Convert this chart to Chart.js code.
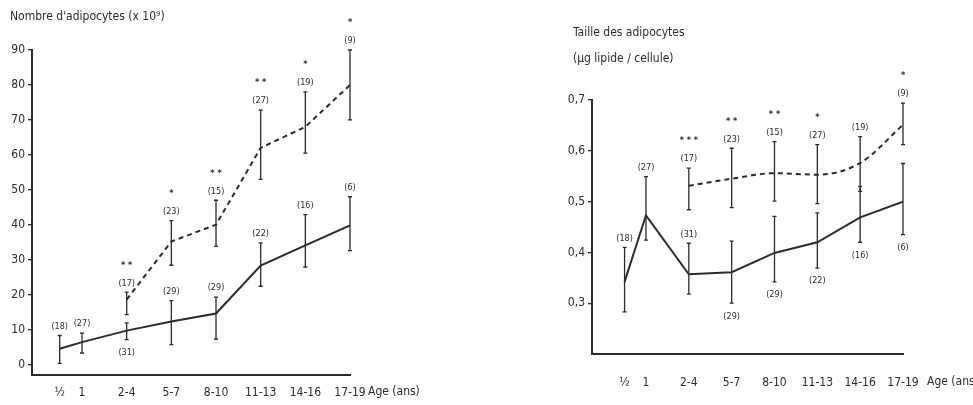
<!DOCTYPE html>
<html>
<head>
<meta charset="utf-8">
<script src="https://cdn.jsdelivr.net/npm/chart.js@4.4.1/dist/chart.umd.min.js"></script>
<style>
  html, body { margin: 0; padding: 0; background: #fff; }
  body { width: 973px; height: 405px; position: relative; overflow: hidden; }
  canvas { position: absolute; top: 0; }
  #left { left: 0; }
  #right { left: 490px; }
</style>
</head>
<body>
<canvas id="left" width="490" height="405"></canvas>
<canvas id="right" width="483" height="405"></canvas>
<script>
// age classes (x positions: 1/2 year sits half a step before 1)
const ages = ['½', '1', '2-4', '5-7', '8-10', '11-13', '14-16', '17-19'];
const agePos = [0.5, 1, 2, 3, 4, 5, 6, 7];

// left panel: number of adipocytes (x 10^9)
const nbTicks = [0, 10, 20, 30, 40, 50, 60, 70, 80, 90];
const nbSolid = [4.5, 6.4, 9.7, 12.3, 14.6, 28.3, 34.1, 39.8];
const nbSolidLo = [0.3, 3.3, 7.1, 5.7, 7.3, 22.4, 27.9, 32.6];
const nbSolidHi = [8.3, 9, 11.9, 18.3, 19.3, 34.8, 42.9, 48];
const nbSolidN = [18, 27, 31, 29, 29, 22, 16, 6];
const nbDashed = [null, null, 18.6, 35.2, 40, 62, 68, 80];
const nbDashedLo = [null, null, 14.3, 28.4, 33.8, 53, 60.5, 70];
const nbDashedHi = [null, null, 20.7, 41.2, 47, 72.8, 78, 90];
const nbDashedN = [null, null, 17, 23, 15, 27, 19, 9];
const nbStars = ['', '', '**', '*', '**', '**', '*', '*'];

// right panel: adipocyte size (µg lipid / cell)
const szTicks = [0.3, 0.4, 0.5, 0.6, 0.7];
const szSolid = [0.342, 0.473, 0.357, 0.361, 0.399, 0.42, 0.469, 0.5];
const szSolidLo = [0.283, 0.424, 0.318, 0.3, 0.342, 0.369, 0.42, 0.435];
const szSolidHi = [0.41, 0.549, 0.418, 0.422, 0.471, 0.478, 0.53, 0.575];
const szSolidN = [18, 27, 31, 29, 29, 22, 16, 6];
const szDashed = [null, null, 0.531, 0.545, 0.556, 0.553, 0.576, 0.651];
const szDashedLo = [null, null, 0.484, 0.488, 0.501, 0.496, 0.52, 0.612];
const szDashedHi = [null, null, 0.566, 0.605, 0.618, 0.612, 0.628, 0.694];
const szDashedN = [null, null, 17, 23, 15, 27, 19, 9];
const szStars = ['', '', '***', '**', '**', '*', '', '*'];

// where the (n) labels go for the solid curves
const nbSolidSide = ['up', 'up', 'down', 'up', 'up', 'up', 'up', 'up'];
const szSolidSide = ['up', 'up', 'up', 'down', 'down', 'down', 'down', 'down'];

const FONT = "'Liberation Sans Narrow', 'DejaVu Sans Condensed', sans-serif";
const INK = '#2b2b2b';

function pts(vals) {
  const out = [];
  vals.forEach((v, i) => { if (v !== null) out.push({ x: agePos[i], y: v, i: i }); });
  return out;
}

// error bars, sample sizes, stars, titles
const annot = {
  id: 'annot',
  afterDatasetsDraw(chart, args, opts) {
    const { ctx, scales: { x, y } } = chart;
    ctx.save();
    ctx.strokeStyle = INK;
    ctx.fillStyle = INK;
    ctx.lineWidth = 1.3;
    chart.data.datasets.forEach(ds => {
      ds.data.forEach(p => {
        const i = p.i;
        const px = x.getPixelForValue(p.x);
        const top = y.getPixelForValue(ds.hi[i]);
        const bot = y.getPixelForValue(ds.lo[i]);
        ctx.beginPath();
        ctx.moveTo(px, top); ctx.lineTo(px, bot);
        ctx.moveTo(px - 2, top); ctx.lineTo(px + 2, top);
        ctx.moveTo(px - 2, bot); ctx.lineTo(px + 2, bot);
        ctx.stroke();
        ctx.font = '9px ' + FONT;
        ctx.textAlign = 'center';
        ctx.textBaseline = 'middle';
        const side = ds.side ? ds.side[i] : 'up';
        const ly = side === 'up' ? top - 9 : bot + 13;
        ctx.fillText('(' + ds.n[i] + ')', px, ly);
        if (ds.stars && ds.stars[i]) {
          ctx.font = 'bold 9px ' + FONT;
          ctx.fillText(ds.stars[i].split('').join(' '), px, ly - 18);
        }
      });
    });
    ctx.font = '12px ' + FONT;
    ctx.textAlign = 'left';
    ctx.textBaseline = 'middle';
    opts.titles.forEach(t => ctx.fillText(t[0], t[1], t[2]));
    ctx.fillText('Age (ans)', x.right + opts.ageGap, opts.tickY);
    ctx.restore();
  }
};

function makeChart(id, cfg) {
  return new Chart(document.getElementById(id), {
    type: 'line',
    data: {
      datasets: [
        {
          data: pts(cfg.solid), hi: cfg.solidHi, lo: cfg.solidLo, n: cfg.solidN, side: cfg.solidSide,
          borderColor: INK, borderWidth: 2, pointRadius: 0, tension: 0
        },
        {
          data: pts(cfg.dashed), hi: cfg.dashedHi, lo: cfg.dashedLo, n: cfg.dashedN, stars: cfg.stars,
          borderColor: INK, borderWidth: 2, borderDash: [5, 4], pointRadius: 0,
          cubicInterpolationMode: cfg.smooth ? 'monotone' : 'default', tension: cfg.smooth ? 0.4 : 0
        }
      ]
    },
    options: {
      responsive: false,
      animation: false,
      devicePixelRatio: 1,
      layout: { padding: cfg.padding },
      plugins: {
        legend: { display: false },
        tooltip: { enabled: false },
        annot: { titles: cfg.titles, ageGap: cfg.ageGap, tickY: cfg.tickY }
      },
      scales: {
        x: {
          type: 'linear', min: cfg.xMin, max: 7,
          afterBuildTicks: s => { s.ticks = agePos.map(v => ({ value: v })); },
          afterFit: s => { s.height = cfg.xHeight; },
          grid: { display: false },
          border: { display: true, color: INK, width: 2 },
          ticks: {
            color: INK, padding: cfg.tickPad, maxRotation: 0, autoSkip: false,
            font: { family: FONT, size: 12 },
            callback: v => ages[agePos.indexOf(v)]
          }
        },
        y: {
          min: cfg.yMin, max: cfg.yMax,
          afterBuildTicks: s => { s.ticks = cfg.yTicks.map(v => ({ value: v })); },
          afterFit: s => { s.width = cfg.yWidth; },
          grid: { drawOnChartArea: false, drawTicks: true, tickLength: 4, color: INK, lineWidth: 1.3 },
          border: { display: true, color: INK, width: 2 },
          ticks: {
            color: INK, padding: 3,
            font: { family: FONT, size: 12 },
            callback: v => cfg.fmt(v)
          }
        }
      }
    },
    plugins: [annot]
  });
}

makeChart('left', {
  solid: nbSolid, solidLo: nbSolidLo, solidHi: nbSolidHi, solidN: nbSolidN, solidSide: nbSolidSide,
  dashed: nbDashed, dashedLo: nbDashedLo, dashedHi: nbDashedHi, dashedN: nbDashedN, stars: nbStars,
  smooth: false,
  yTicks: nbTicks, yMin: -3, yMax: 90, fmt: v => String(v),
  xMin: -0.12, yWidth: 32, xHeight: 30, tickY: 392, tickPad: 3, ageGap: 18,
  padding: { top: 50, right: 140, left: 0, bottom: 0 },
  titles: [["Nombre d'adipocytes (x 10⁹)", 10, 17]]
});

makeChart('right', {
  solid: szSolid, solidLo: szSolidLo, solidHi: szSolidHi, solidN: szSolidN, solidSide: szSolidSide,
  dashed: szDashed, dashedLo: szDashedLo, dashedHi: szDashedHi, dashedN: szDashedN, stars: szStars,
  smooth: true,
  yTicks: szTicks, yMin: 0.2, yMax: 0.7, fmt: v => v.toFixed(1).replace('.', ','),
  xMin: -0.26, yWidth: 40, xHeight: 51, tickY: 382, tickPad: 14, ageGap: 24,
  padding: { top: 100, right: 70, left: 62, bottom: 0 },
  titles: [['Taille des adipocytes', 83, 33], ['(µg lipide / cellule)', 83, 59]]
});
</script>
</body>
</html>
